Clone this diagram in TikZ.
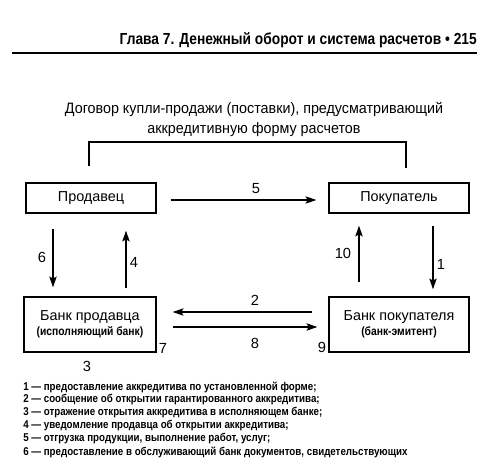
\documentclass[tikz,border=0pt]{standalone}
\usepackage{fontspec}
\setmainfont{Liberation Sans}
\newfontfamily\condf[FakeStretch=0.86]{Liberation Sans}
\newfontfamily\titlef[FakeStretch=0.95]{Liberation Sans}
\usetikzlibrary{arrows.meta}
\tikzset{
  box/.style={draw, line width=1.1pt, inner sep=0pt, align=center, font=\fontsize{10.8}{12}\selectfont},
  arr/.style={line width=0.9pt, -{Stealth[length=8pt,width=5.5pt,inset=1.5pt]}},
  ln/.style={line width=0.9pt},
  num/.style={font=\fontsize{11}{12}\selectfont, inner sep=0pt},
  legend/.style={font=\condf\bfseries\fontsize{8.5}{10}\selectfont, anchor=west, inner sep=0pt}
}
\begin{document}
\begin{tikzpicture}[x=0.75pt,y=-0.75pt]
\clip (0,0) rectangle (479,459);
\useasboundingbox (0,0) rectangle (479,459);
% header
\node[anchor=east, inner sep=0pt, font=\condf\bfseries\fontsize{12}{13}\selectfont] (hdr) at (477,40) {Глава 7. Денежный оборот и система расчетов • 215};
\draw[line width=1.1pt] (12,53) -- (477,53);
% title
\node[align=center, inner sep=0pt, font=\titlef\fontsize{11.3}{14.3}\selectfont] (title) at (254,119.5) {Договор купли-продажи (поставки), предусматривающий\\аккредитивную форму расчетов};
% boxes
\node[box, minimum width=97.5pt, minimum height=22.5pt] (seller) at (91,198) {Продавец};
\node[box, minimum width=105pt, minimum height=22.5pt] (buyer) at (399,198) {Покупатель};
\node[box, minimum width=99pt, minimum height=41.25pt] (sbank) at (90,324.5) {Банк продавца\\[-1pt]{\condf\bfseries\fontsize{9}{10}\selectfont (исполняющий банк)}};
\node[box, minimum width=105pt, minimum height=41.25pt] (bbank) at (399,324.5) {Банк покупателя\\[-1pt]{\condf\bfseries\fontsize{9}{10}\selectfont (банк-эмитент)}};
% bracket
\draw[ln] (seller.north -| 89,0) ++(0,-16) |- (406,142) -- (406,168);
% arrows
\draw[arr, shorten <=10.5pt, shorten >=9pt] (seller.east |- 0,200) -- (buyer.west |- 0,200);
\draw[arr, shorten <=11.25pt, shorten >=6.75pt] (seller.south -| 53,0) -- (sbank.north -| 53,0);
\draw[arr, shorten <=6pt, shorten >=12.75pt] (sbank.north -| 126,0) -- (seller.south -| 126,0);
\draw[arr, shorten <=10.5pt, shorten >=9pt] (bbank.north -| 359,0) -- (buyer.south -| 359,0);
\draw[arr, shorten <=9pt, shorten >=5.25pt] (buyer.south -| 433,0) -- (bbank.north -| 433,0);
\draw[arr, shorten <=12pt, shorten >=12pt] (bbank.west |- 0,312) -- (sbank.east |- 0,312);
\draw[arr, shorten <=12pt, shorten >=8.25pt] (sbank.east |- 0,327) -- (bbank.west |- 0,327);
% numbers
\node[num] (n5) at (256,189) {5};
\node[num] (n6) at (42,257) {6};
\node[num] (n4) at (134,262) {4};
\node[num] (n10) at (343,253) {10};
\node[num] (n1) at (441,264) {1};
\node[num] (n2) at (255,300) {2};
\node[num] (n8) at (255,343) {8};
\node[num] (n7) at (163,348) {7};
\node[num] (n9) at (322,347) {9};
\node[num] (n3) at (87,366) {3};
% legend
\node[legend] (l1) at (23,387) {1 — предоставление аккредитива по установленной форме;};
\node[legend] (l2) at (23,400) {2 — сообщение об открытии гарантированного аккредитива;};
\node[legend] (l3) at (23,413) {3 — отражение открытия аккредитива в исполняющем банке;};
\node[legend] (l4) at (23,426) {4 — уведомление продавца об открытии аккредитива;};
\node[legend] (l5) at (23,439) {5 — отгрузка продукции, выполнение работ, услуг;};
\node[legend] (l6) at (23,452) {6 — предоставление в обслуживающий банк документов, свидетельствующих};
\end{tikzpicture}
\end{document}
